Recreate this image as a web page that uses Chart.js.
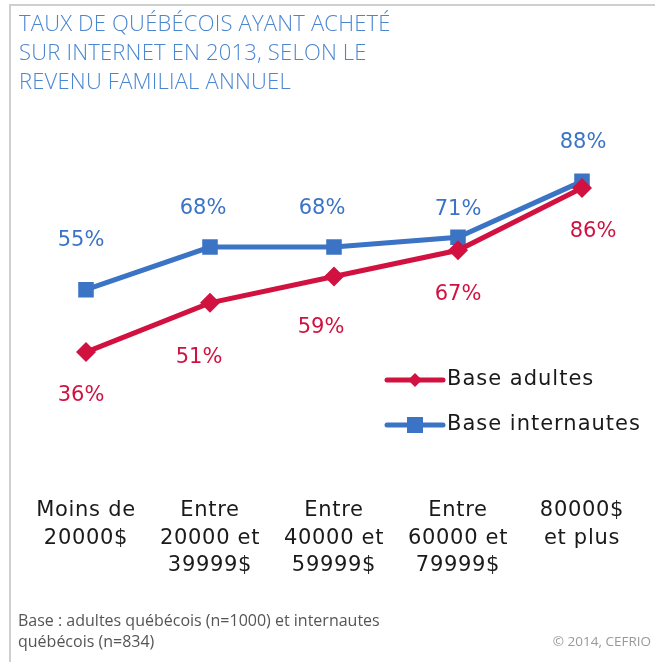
<!DOCTYPE html>
<html>
<head>
<meta charset="utf-8">
<script src="https://cdn.jsdelivr.net/npm/chart.js@4/dist/chart.umd.min.js"></script>
<style>
  html, body { margin: 0; padding: 0; background: #fff; }
  body { width: 655px; height: 662px; position: relative; overflow: hidden; font-family: "Open Sans", sans-serif; }
  .frame { position: absolute; left: 9px; top: 4px; width: 660px; height: 680px; border-left: 2px solid #cfcfcf; border-top: 2px solid #cfcfcf; }
  .title { position: absolute; left: 19px; top: 8px; color: #4a86d0; font-size: 22px; font-weight: 300; line-height: 29px; letter-spacing: 0.2px; }
  .note { position: absolute; left: 18px; top: 610px; color: #555; font-size: 16px; line-height: 21px; }
  .copy { position: absolute; right: 4px; top: 632px; color: #999; font-size: 13.5px; }
  #wrap { position: absolute; left: 0; top: 0; width: 655px; height: 662px; }
</style>
</head>
<body>
<div class="frame"></div>
<div id="wrap"><canvas id="chart" width="655" height="662"></canvas></div>
<div class="title">TAUX DE QUÉBÉCOIS AYANT ACHETÉ<br>SUR INTERNET EN 2013, SELON LE<br>REVENU FAMILIAL ANNUEL</div>
<div class="note">Base : adultes québécois (n=1000) et internautes<br>québécois (n=834)</div>
<div class="copy">© 2014, CEFRIO</div>
<script>
// categories (multi-line tick labels)
const categories = [
  ['Moins de', '20000$'],
  ['Entre', '20000 et', '39999$'],
  ['Entre', '40000 et', '59999$'],
  ['Entre', '60000 et', '79999$'],
  ['80000$', 'et plus']
];
const adultes = [36, 51, 59, 67, 86];
const internautes = [55, 68, 68, 71, 88];

const RED = '#d11240';
const BLUE = '#3b74c4';
const FONT = '"DejaVu Sans", sans-serif';
const SPACING = '0.7px';

// label offsets (px) from the point, per series
const labelDy = {
  0: [43, 55, 51, 44, 44],
  1: [-49, -38, -38, -28, -39]
};
const labelDx = {
  0: [-5, -11, -13, 0, 11],
  1: [-5, -7, -12, 0, 1]
};

// slightly wider letters for the tick labels, like the original typeface
const spacing = {
  id: 'spacing',
  beforeInit(chart) { chart.ctx.letterSpacing = SPACING; },
  beforeDraw(chart) { chart.ctx.letterSpacing = SPACING; }
};

const valueLabels = {
  id: 'valueLabels',
  afterDatasetsDraw(chart) {
    const ctx = chart.ctx;
    ctx.save();
    ctx.letterSpacing = '0px';
    ctx.font = '21px ' + FONT;
    ctx.textAlign = 'center';
    ctx.textBaseline = 'middle';
    chart.data.datasets.forEach((ds, di) => {
      const meta = chart.getDatasetMeta(di);
      ctx.fillStyle = ds.borderColor;
      meta.data.forEach((pt, i) => {
        ctx.fillText(ds.data[i] + '%', pt.x + labelDx[di][i], pt.y + labelDy[di][i]);
      });
    });
    ctx.restore();
  }
};

const customLegend = {
  id: 'customLegend',
  afterDraw(chart) {
    const ctx = chart.ctx;
    ctx.save();
    const x0 = 387, x1 = 443;
    const rows = [380, 425];
    chart.data.datasets.forEach((ds, di) => {
      const y = rows[di];
      ctx.strokeStyle = ds.borderColor;
      ctx.lineWidth = 5;
      ctx.lineCap = 'round';
      ctx.beginPath();
      ctx.moveTo(x0, y);
      ctx.lineTo(x1, y);
      ctx.stroke();
      ctx.fillStyle = ds.borderColor;
      const cx = (x0 + x1) / 2;
      if (di === 0) {
        ctx.beginPath();
        ctx.moveTo(cx, y - 7);
        ctx.lineTo(cx + 7, y);
        ctx.lineTo(cx, y + 7);
        ctx.lineTo(cx - 7, y);
        ctx.closePath();
        ctx.fill();
      } else {
        ctx.fillRect(cx - 8, y - 8, 16, 16);
      }
      ctx.fillStyle = '#1a1a1a';
      ctx.font = '21px ' + FONT;
      ctx.letterSpacing = '1px';
      ctx.textAlign = 'left';
      ctx.textBaseline = 'middle';
      ctx.fillText(ds.label, x1 + 4, y);
    });
    ctx.restore();
  }
};

new Chart(document.getElementById('chart'), {
  type: 'line',
  data: {
    labels: categories,
    datasets: [
      {
        label: 'Base adultes',
        data: adultes,
        borderColor: RED,
        backgroundColor: RED,
        borderWidth: 5,
        pointStyle: 'rectRot',
        pointRadius: 10,
        pointHoverRadius: 10,
        pointBorderWidth: 0,
        tension: 0
      },
      {
        label: 'Base internautes',
        data: internautes,
        borderColor: BLUE,
        backgroundColor: BLUE,
        borderWidth: 5,
        pointStyle: 'rect',
        pointRadius: 11,
        pointHoverRadius: 11,
        pointBorderWidth: 0,
        tension: 0
      }
    ]
  },
  options: {
    responsive: false,
    animation: false,
    devicePixelRatio: 1,
    layout: { padding: { left: 24, right: 1, top: 142, bottom: 56 } },
    plugins: {
      legend: { display: false },
      tooltip: { enabled: false },
      title: { display: false }
    },
    scales: {
      x: {
        offset: true,
        grid: { display: false, drawTicks: false },
        border: { display: false },
        ticks: {
          color: '#1a1a1a',
          font: { family: FONT, size: 21, lineHeight: 1.33 },
          padding: 26,
          maxRotation: 0,
          autoSkip: false
        }
      },
      y: {
        min: 0,
        max: 100,
        display: false
      }
    }
  },
  plugins: [spacing, valueLabels, customLegend]
});
</script>
</body>
</html>
